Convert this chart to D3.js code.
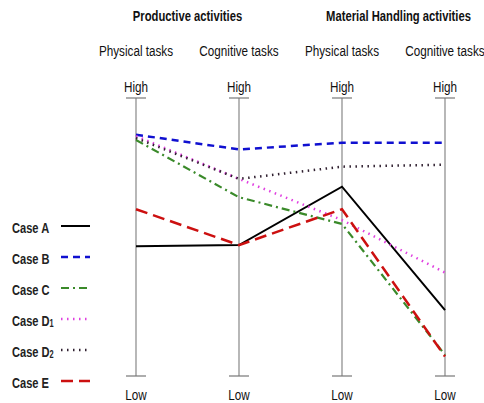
<!DOCTYPE html>
<html>
<head>
<meta charset="utf-8">
<script src="https://cdn.jsdelivr.net/npm/d3@7"></script>
<style>
  body { margin: 0; background: #fff; }
  text { font-family: "Liberation Sans", Arial, sans-serif; font-size: 15px; fill: #111; }
</style>
</head>
<body>
<div class="chart"></div>
<script>
//// data

const groups = ['Productive activities', 'Material Handling activities'];
const dimensions = ['Physical tasks', 'Cognitive tasks', 'Physical tasks', 'Cognitive tasks'];
const levelLabels = ['Low', 'High'];

const caseNames = ['A', 'B', 'C', 'D1', 'D2', 'E'];
const caseA  = [0.467, 0.471, 0.681, 0.237];
const caseB  = [0.868, 0.815, 0.839, 0.839];
const caseC  = [0.849, 0.643, 0.547, 0.076];
const caseD1 = [0.863, 0.709, 0.561, 0.372];
const caseD2 = [0.856, 0.709, 0.753, 0.760];
const caseE  = [0.600, 0.471, 0.600, 0.070];
const caseValues = [caseA, caseB, caseC, caseD1, caseD2, caseE];

//// styles per case

const caseStyle = {
    A:  {color: '#000000', dash: null,          width: 2},
    B:  {color: '#1010d0', dash: '7,5',         width: 2.5},
    C:  {color: '#3a8a2a', dash: '8,4,2,4',     width: 2.2},
    D1: {color: '#e040e0', dash: '1.5,4.5',     width: 2.5},
    D2: {color: '#302030', dash: '1.5,4.5',     width: 2.5},
    E:  {color: '#cc1010', dash: '12,6',        width: 2.5}
};

// the original uses a narrow font - squeeze text horizontally
const place = (px, py, s) => `translate(${px},${py}) scale(${s || 0.78},1)`;

drawChart(d3.select('.chart').node());

function drawChart(rootDom){
    const w = 484, h = 403;

    const svg = d3.select(rootDom)
        .append('svg')
        .attr('width', w)
        .attr('height', h);

    const x = d3.scalePoint()
        .domain(d3.range(dimensions.length))
        .range([136, 445]);

    const y = d3.scaleLinear()
        .domain([0, 1])
        .range([376, 98]);

    // group headers, centred over each pair of axes
    svg.selectAll('.group')
        .data(groups)
        .enter().append('text')
        .attr('class', 'group')
        .attr('transform', (d, i) => place((x(i * 2) + x(i * 2 + 1)) / 2 + (i ? 5 : 0), 21, 0.75))
        .attr('text-anchor', 'middle')
        .style('font-weight', 'bold')
        .text(d => d);

    // axes
    const axes = svg.selectAll('.axis')
        .data(dimensions)
        .enter().append('g')
        .attr('class', 'axis')
        .attr('transform', (d, i) => `translate(${x(i)},0)`);

    axes.append('text')
        .attr('transform', place(0, 56))
        .attr('text-anchor', 'middle')
        .text(d => d);

    axes.append('line')
        .attr('y1', y(1)).attr('y2', y(0))
        .style('stroke', '#888')
        .style('stroke-width', 1.2);

    axes.selectAll('.tick')
        .data([0, 1])
        .enter().append('line')
        .attr('x1', -10).attr('x2', 10)
        .attr('y1', d => y(d)).attr('y2', d => y(d))
        .style('stroke', '#777')
        .style('stroke-width', 1.2);

    axes.append('text')
        .attr('transform', place(0, y(1) - 6))
        .attr('text-anchor', 'middle')
        .text(levelLabels[1]);

    axes.append('text')
        .attr('transform', place(0, y(0) + 24))
        .attr('text-anchor', 'middle')
        .text(levelLabels[0]);

    // case lines
    const line = d3.line()
        .x((d, i) => x(i))
        .y(d => y(d));

    svg.selectAll('.case')
        .data(caseNames)
        .enter().append('path')
        .attr('class', 'case')
        .attr('d', (d, i) => line(caseValues[i]))
        .style('fill', 'none')
        .style('stroke', d => caseStyle[d].color)
        .style('stroke-width', d => caseStyle[d].width)
        .style('stroke-dasharray', d => caseStyle[d].dash);

    // legend
    const legend = svg.selectAll('.legend')
        .data(caseNames)
        .enter().append('g')
        .attr('class', 'legend')
        .attr('transform', (d, i) => `translate(12,${226 + i * 31})`);

    const label = legend.append('text')
        .attr('transform', place(0, 7, 0.74))
        .style('font-weight', 'bold')
        .style('fill', '#222');
    label.append('tspan').text(d => 'Case ' + d[0]);
    label.append('tspan')
        .attr('dy', 1)
        .style('font-size', '10px')
        .text(d => d.length > 1 ? d.slice(1) : '');

    legend.append('line')
        .attr('x1', 49).attr('x2', 78)
        .attr('y1', 0).attr('y2', 0)
        .style('stroke', d => caseStyle[d].color)
        .style('stroke-width', d => caseStyle[d].width)
        .style('stroke-dasharray', d => caseStyle[d].dash);
}
</script>
</body>
</html>
